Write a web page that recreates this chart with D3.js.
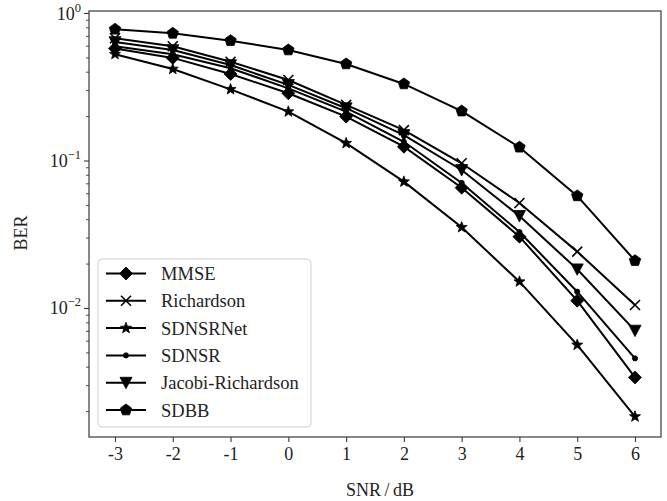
<!DOCTYPE html>
<html>
<head>
<meta charset="utf-8">
<script src="https://cdn.jsdelivr.net/npm/d3@7/dist/d3.min.js"></script>
<style>
html,body{margin:0;padding:0;background:#fff;}
svg{display:block;font-family:"Liberation Serif","Times New Roman",serif;}
</style>
</head>
<body>
<svg id="chart" width="667" height="501"></svg>
<script>
const snr = [-3, -2, -1, 0, 1, 2, 3, 4, 5, 6];
const mmse = [0.58, 0.50, 0.389, 0.288, 0.200, 0.125, 0.0659, 0.0307, 0.0113, 0.00341];
const richardson = [0.68, 0.60, 0.471, 0.354, 0.240, 0.162, 0.0965, 0.0519, 0.0243, 0.01056];
const sdnsrnet = [0.53, 0.42, 0.306, 0.216, 0.132, 0.0724, 0.0355, 0.0152, 0.00566, 0.00185];
const sdnsr = [0.60, 0.53, 0.425, 0.311, 0.216, 0.135, 0.071, 0.033, 0.0130, 0.00459];
const jacobiRichardson = [0.64, 0.565, 0.447, 0.328, 0.228, 0.150, 0.0869, 0.0424, 0.01844, 0.00708];
const sdbb = [0.782, 0.734, 0.654, 0.566, 0.455, 0.333, 0.218, 0.124, 0.058, 0.0211];

const seriesNames = ["MMSE", "Richardson", "SDNSRNet", "SDNSR", "Jacobi-Richardson", "SDBB"];
const seriesValues = [mmse, richardson, sdnsrnet, sdnsr, jacobiRichardson, sdbb];
const seriesMarkers = ["diamond", "x", "star", "dot", "tridown", "pentagon"];

const xTicks = [-3, -2, -1, 0, 1, 2, 3, 4, 5, 6];
const yMajorTicks = [1e-2, 1e-1, 1];
const yMajorExp = ["\u22122", "\u22121", "0"];
const xLabel = "SNR\u2009/\u2009dB";
const yLabel = "BER";

const svg = d3.select("#chart");
const L = 89, R = 661, T = 11, B = 437;
const x = d3.scaleLinear().domain([-3.45, 6.45]).range([L, R]);
const y = d3.scaleLog().domain([0.001345, 1.0398]).range([B, T]);

const axisColor = "#3a3a3a";

function markerPath(type) {
  const p = d3.path();
  if (type === "diamond") {
    const r = 6.5;
    p.moveTo(0, -r); p.lineTo(r, 0); p.lineTo(0, r); p.lineTo(-r, 0); p.closePath();
  } else if (type === "x") {
    const r = 5;
    p.moveTo(-r, -r); p.lineTo(r, r); p.moveTo(-r, r); p.lineTo(r, -r);
  } else if (type === "star") {
    const ro = 5.8, ri = 2.4;
    for (let i = 0; i < 10; i++) {
      const a = -Math.PI / 2 + i * Math.PI / 5;
      const rr = i % 2 === 0 ? ro : ri;
      if (i === 0) p.moveTo(rr * Math.cos(a), rr * Math.sin(a));
      else p.lineTo(rr * Math.cos(a), rr * Math.sin(a));
    }
    p.closePath();
  } else if (type === "dot") {
    p.arc(0, 0, 2.6, 0, 2 * Math.PI);
  } else if (type === "tridown") {
    const r = 6;
    p.moveTo(0, r); p.lineTo(-r, -r * 0.9); p.lineTo(r, -r * 0.9); p.closePath();
  } else if (type === "pentagon") {
    const r = 6;
    for (let i = 0; i < 5; i++) {
      const a = -Math.PI / 2 + i * 2 * Math.PI / 5;
      if (i === 0) p.moveTo(r * Math.cos(a), r * Math.sin(a));
      else p.lineTo(r * Math.cos(a), r * Math.sin(a));
    }
    p.closePath();
  }
  return p.toString();
}

function drawMarker(g, type, cx, cy) {
  const el = g.append("path")
    .attr("d", markerPath(type))
    .attr("transform", `translate(${cx},${cy})`);
  if (type === "x") el.attr("fill", "none").attr("stroke", "#000").attr("stroke-width", 1.6);
  else el.attr("fill", "#000").attr("stroke", "#000").attr("stroke-width", 0.8);
}

// clip
svg.append("defs").append("clipPath").attr("id", "clip")
  .append("rect").attr("x", L).attr("y", T).attr("width", R - L).attr("height", B - T);

// series
const plotG = svg.append("g").attr("clip-path", "url(#clip)");
const line = d3.line().x((d, i) => x(snr[i])).y(d => y(d));
seriesValues.forEach((vals, k) => {
  plotG.append("path").datum(vals)
    .attr("d", line)
    .attr("fill", "none")
    .attr("stroke", "#000")
    .attr("stroke-width", 2);
});
seriesValues.forEach((vals, k) => {
  vals.forEach((v, i) => drawMarker(plotG, seriesMarkers[k], x(snr[i]), y(v)));
});

// x axis
const xAxis = d3.axisBottom(x).tickValues(xTicks).tickSize(5).tickPadding(5)
  .tickFormat(d => String(d));
const xg = svg.append("g").attr("transform", `translate(0,${B})`).call(xAxis);
xg.select(".domain").remove();
xg.selectAll(".tick line").attr("stroke", axisColor).attr("stroke-width", 1.1);
xg.selectAll(".tick text").attr("font-size", 18).attr("fill", "#222")
  .attr("font-family", "Liberation Serif, serif");

// y axis: minor ticks
const minor = [];
[1e-3, 1e-2, 1e-1, 1].forEach(base => {
  for (let m = 2; m <= 9; m++) {
    const v = base * m;
    if (v >= y.domain()[0] && v <= y.domain()[1]) minor.push(v);
  }
});
const yg = svg.append("g");
yg.selectAll("line.minor").data(minor).enter().append("line")
  .attr("x1", L - 3).attr("x2", L).attr("y1", d => y(d)).attr("y2", d => y(d))
  .attr("stroke", axisColor).attr("stroke-width", 0.9);
yg.selectAll("line.major").data(yMajorTicks).enter().append("line")
  .attr("x1", L - 5).attr("x2", L).attr("y1", d => y(d)).attr("y2", d => y(d))
  .attr("stroke", axisColor).attr("stroke-width", 1.1);
yMajorTicks.forEach((v, i) => {
  const t = yg.append("text")
    .attr("x", L - 8).attr("y", y(v) + 6)
    .attr("text-anchor", "end")
    .attr("font-size", 18).attr("fill", "#222");
  t.append("tspan").text("10");
  t.append("tspan").attr("dy", -8).attr("font-size", 12.5).text(yMajorExp[i]);
});

// frame
svg.append("rect").attr("x", L).attr("y", T).attr("width", R - L).attr("height", B - T)
  .attr("fill", "none").attr("stroke", axisColor).attr("stroke-width", 1.2);

// axis labels
svg.append("text").attr("x", 380).attr("y", 496).attr("text-anchor", "middle")
  .attr("font-size", 18).attr("fill", "#222").text(xLabel);
svg.append("text").attr("transform", `translate(27,233) rotate(-90)`)
  .attr("text-anchor", "middle").attr("font-size", 18).attr("fill", "#222").text(yLabel);

// legend
const lg = svg.append("g");
lg.append("rect").attr("x", 98).attr("y", 259).attr("width", 213).attr("height", 168)
  .attr("rx", 4).attr("fill", "#fff").attr("fill-opacity", 0.85)
  .attr("stroke", "#cfcfcf").attr("stroke-width", 1);
seriesNames.forEach((name, k) => {
  const cy = 273.5 + k * 27.3;
  lg.append("line").attr("x1", 106).attr("x2", 146).attr("y1", cy).attr("y2", cy)
    .attr("stroke", "#000").attr("stroke-width", 2);
  drawMarker(lg, seriesMarkers[k], 126, cy);
  lg.append("text").attr("x", 161).attr("y", cy + 6.5)
    .attr("font-size", 18.5).attr("fill", "#222").text(name);
});
</script>
</body>
</html>
